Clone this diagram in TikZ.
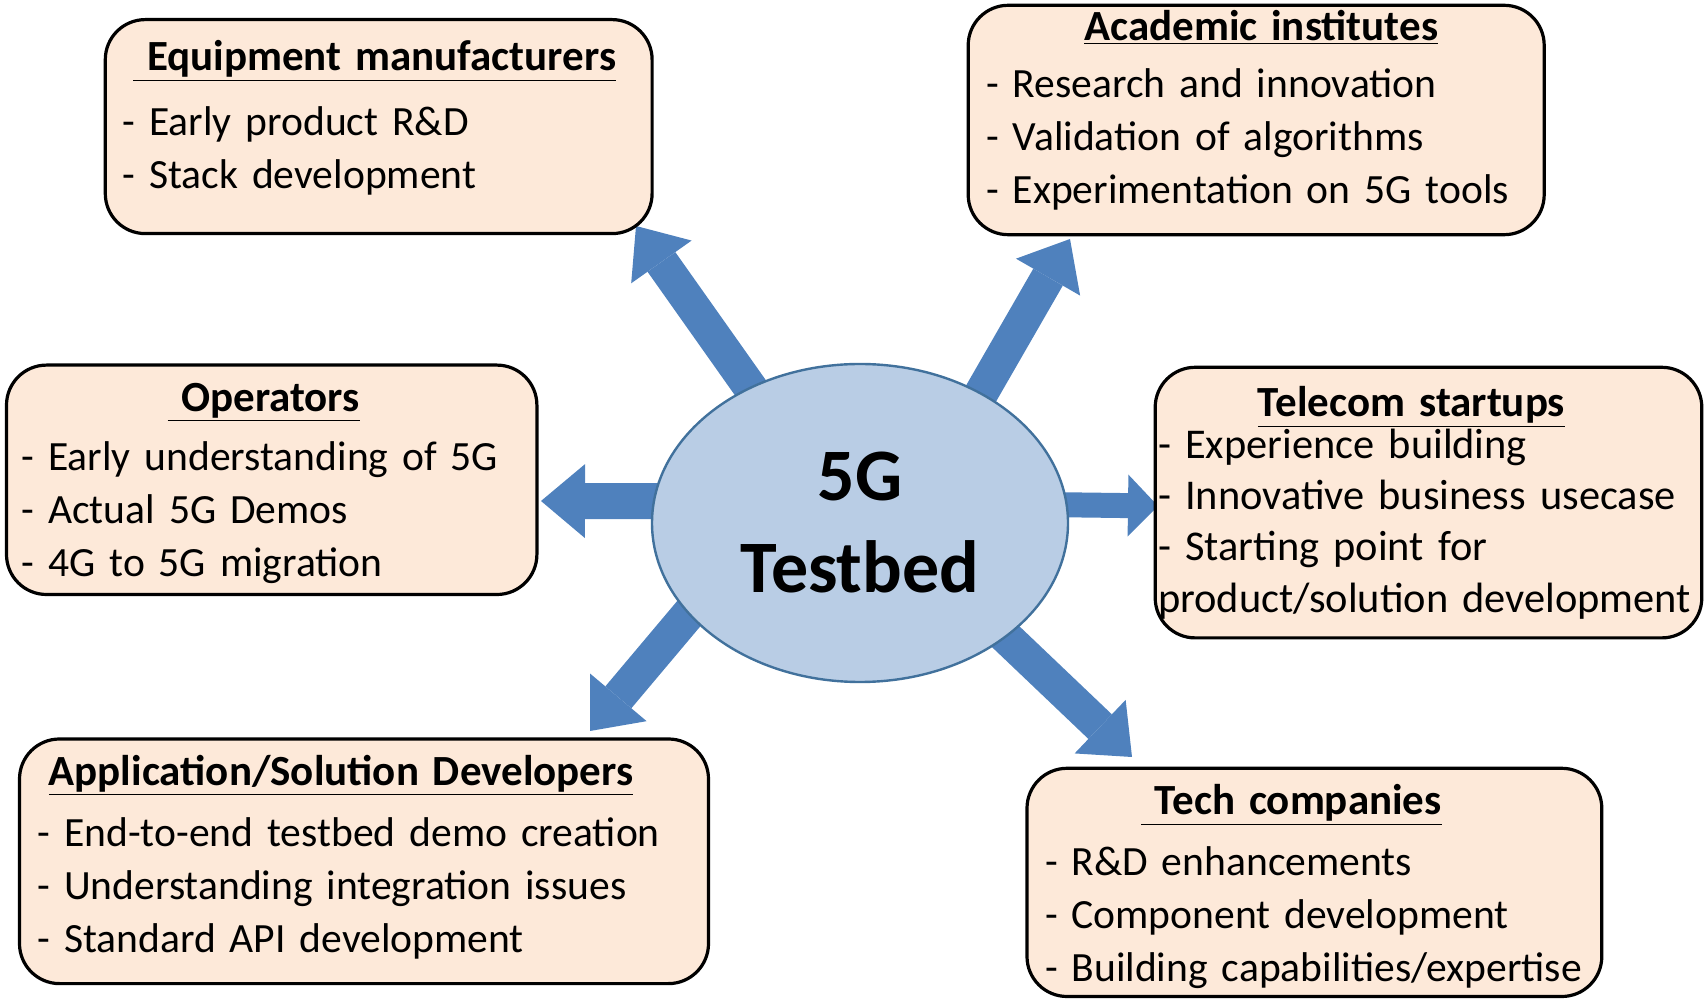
\documentclass[tikz,border=0pt]{standalone}
\usepackage{fontspec}
\setmainfont{Carlito}
\usetikzlibrary{arrows.meta,shapes.geometric,backgrounds}
\definecolor{peach}{HTML}{FDE9D9}
\definecolor{sky}{HTML}{B9CDE5}
\definecolor{steel}{HTML}{4F81BD}
\definecolor{rim}{HTML}{41719C}
\newcommand{\grptitle}[2][0pt]{\hspace*{\fill}\hspace*{-#1}{\fontsize{21.5}{26.5}\selectfont\underline{\textbf{#2}}}\hspace*{\fill}\mbox{}}
\newcommand{\itm}[1]{\mbox{- #1}}
\newcommand{\lowpad}[1]{\rule[-#1]{0pt}{0pt}}
\newcommand{\toppad}[1]{\rule{0pt}{#1}}
\tikzset{grp/.style={draw,line width=1.6pt,rounded corners=20pt,fill=peach,align=left,
    inner ysep=0pt,font=\fontsize{20.8}{26.5}\selectfont},
  hub/.style={ellipse,draw=rim,line width=1.2pt,fill=sky,minimum width=208pt,
    minimum height=159pt,inner sep=0pt,align=center,font=\fontsize{37}{46}\selectfont\bfseries},
  pipe/.style={draw=steel,-{Triangle[width=37pt,length=22pt,line width=0pt]},shorten <=-14pt}}

\begin{document}
\begin{tikzpicture}[x=.5pt,y=-.5pt]
\useasboundingbox (0,0) rectangle (1704,999);
\node[hub] (tb) at (860,523) {5G\\Testbed};
% stakeholder groups
\node[grp,text width=256pt,minimum height=107pt,inner xsep=8.7pt] (equip) at (378.7,126.6)
 {\grptitle[4pt]{\ Equipment manufacturers}\\[6pt]\itm{Early product R\&D}\\\itm{Stack development}\lowpad{12.1pt}};
\node[grp,text width=270pt,minimum height=114.7pt,inner xsep=9pt] (acad) at (1256.2,120)
 {\grptitle[-5pt]{Academic institutes}\\[2pt]\itm{Research and innovation}\\\itm{Validation of algorithms}\\\itm{Experimentation on 5G tools}\lowpad{13.2pt}};
\node[grp,text width=250pt,minimum height=114.7pt,inner xsep=7.6pt] (oper) at (271.7,479.8)
 {\toppad{17.5pt}\grptitle[8pt]{\ Operators}\\[3pt]\itm{Early understanding of 5G}\\\itm{Actual 5G Demos}\\\itm{4G to 5G migration}};
\node[grp,text width=270.3pt,minimum height=135.3pt,inner xsep=1.5pt,font=\fontsize{21.2}{25.6}\selectfont] (telco) at (1428.5,502.6)
 {\grptitle[17pt]{Telecom startups}\\[-4.5pt]\itm{Experience building}\\\itm{Innovative business usecase}\\\itm{Starting point for}\\\mbox{product/solution development}};
\node[grp,text width=326.5pt,minimum height=122.3pt,inner xsep=9pt] (appdev) at (364,861.3)
 {\grptitle[23pt]{Application/Solution Developers}\\[4pt]\itm{End-to-end testbed demo creation}\\\itm{Understanding integration issues}\\\itm{Standard API development}\lowpad{7.8pt}};
\node[grp,text width=269.4pt,minimum height=114.1pt,inner xsep=9pt] (tech) at (1314.4,882.4)
 {\toppad{19.3pt}\grptitle[23pt]{\ Tech companies}\\[4pt]\itm{R\&D enhancements}\\\itm{Component development}\\\itm{Building capabilities/expertise}};
% arrow tips
\coordinate (tEquip) at (636,226);
\coordinate (tAcad) at (1070,239);
\coordinate (tOper) at (541,501);
\coordinate (tTelco) at (1158,506);
\coordinate (tApp) at (590,731);
\coordinate (tTech) at (1132,757);
\begin{scope}[on background layer]
\foreach \a/\t/\w in {129/tEquip/17pt,47/tAcad/17pt,174/tOper/18pt,208/tApp/17pt,322/tTech/17pt}
  \draw[pipe,line width=\w] (tb.\a) -- (\t);
\draw[pipe,line width=12.5pt,-{Triangle[width=31pt,length=15pt,line width=0pt]}] (tb.5) -- (tTelco);
\end{scope}
\end{tikzpicture}
\end{document}
